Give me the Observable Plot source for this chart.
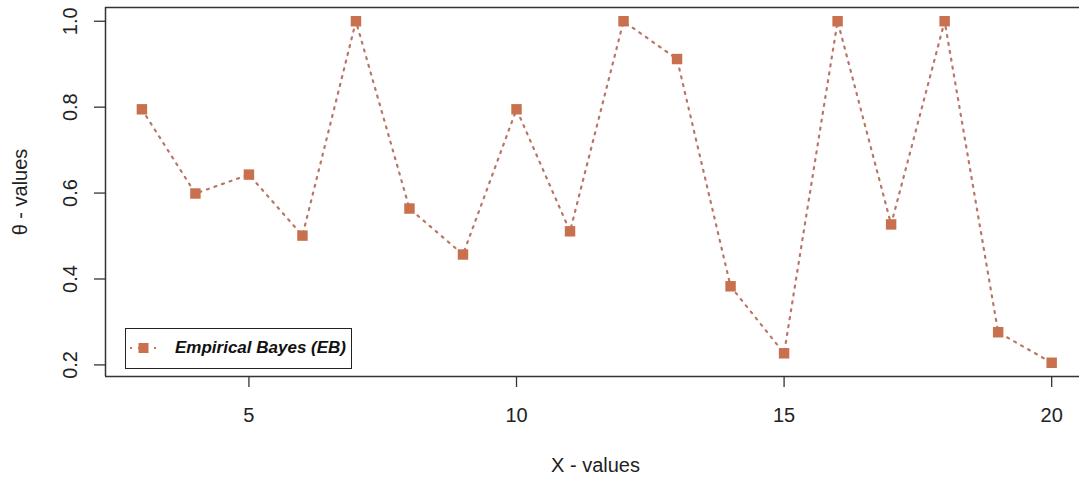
<!DOCTYPE html>
<html>
<head>
<meta charset="utf-8">
<script src="https://cdn.jsdelivr.net/npm/d3@7"></script>
<script src="https://cdn.jsdelivr.net/npm/@observablehq/plot@0.6"></script>
<style>
  html, body { margin: 0; padding: 0; background: #fff; }
  #wrap { position: relative; width: 1079px; height: 478px; font-family: "Liberation Sans", Arial, sans-serif; }
  #legend { position: absolute; left: 125px; top: 328px; width: 227px; height: 41px; border: 1.5px solid #222; background: #fff; box-sizing: border-box; }
  #legend svg { position: absolute; left: 0; top: 0; }
  #legend span { position: absolute; left: 49px; top: 9px; font-size: 17px; font-weight: bold; font-style: italic; color: #111; white-space: nowrap; }
</style>
</head>
<body>
<div id="wrap"></div>
<script>
const xValues = [3, 4, 5, 6, 7, 8, 9, 10, 11, 12, 13, 14, 15, 16, 17, 18, 19, 20];
const thetaEB = [0.795, 0.599, 0.643, 0.501, 1.0, 0.564, 0.457, 0.795, 0.511, 1.0, 0.912, 0.383, 0.227, 1.0, 0.527, 1.0, 0.276, 0.205];
const xTicks = [5, 10, 15, 20];
const yTicks = [0.2, 0.4, 0.6, 0.8, 1.0];
const seriesName = "Empirical Bayes (EB)";
const xTitle = "X - values";
const yTitle = "θ - values";

const data = xValues.map((x, i) => ({x, y: thetaEB[i]}));
const lineColor = "#bb7565";
const pointColor = "#c9714f";
const axisColor = "#333";

const chart = Plot.plot({
  width: 1079,
  height: 478,
  marginLeft: 105,
  marginRight: 0,
  marginTop: 7,
  marginBottom: 102,
  style: {fontFamily: "'Liberation Sans', Arial, sans-serif", fontSize: "20px", color: "#222", background: "#fff"},
  x: {domain: [2.32, 20.52]},
  y: {domain: [0.173, 1.032]},
  marks: [
    Plot.ruleX([2.32], {stroke: axisColor, strokeWidth: 1.5}),
    Plot.ruleY([0.173, 1.032], {stroke: axisColor, strokeWidth: 1.5}),
    Plot.axisX({ticks: xTicks, tickSize: 11, tickPadding: 20, tickFormat: d => String(d), stroke: axisColor, strokeWidth: 1.3, label: null, fill: "#222", fontSize: 20}),
    Plot.axisY({ticks: yTicks, tickSize: 11, tickFormat: () => "", stroke: axisColor, strokeWidth: 1.3, label: null}),
    Plot.text(yTicks, {y: d => d, text: d => d.toFixed(1), frameAnchor: "left", dx: -29, rotate: -90, textAnchor: "middle", lineAnchor: "bottom", fill: "#222", fontSize: 20}),
    Plot.text([xTitle], {text: d => d, frameAnchor: "bottom", dx: 3, dy: 89, lineAnchor: "middle", fill: "#222", fontSize: 20}),
    Plot.text([yTitle], {text: d => d, frameAnchor: "left", dx: -85, rotate: -90, textAnchor: "middle", lineAnchor: "middle", fill: "#222", fontSize: 20}),
    Plot.line(data, {x: "x", y: "y", stroke: lineColor, strokeWidth: 2.2, strokeDasharray: "2,6"}),
    Plot.dot(data, {x: "x", y: "y", symbol: "square", r: 5.9, fill: pointColor, stroke: "none"})
  ]
});
const wrap = document.getElementById("wrap");
wrap.appendChild(chart);

const legend = document.createElement("div");
legend.id = "legend";
legend.innerHTML = `<svg width="48" height="38">
  <line x1="4" y1="19" x2="34" y2="19" stroke="${lineColor}" stroke-width="2.2" stroke-dasharray="2,6"/>
  <rect x="12.5" y="14" width="10" height="10" fill="${pointColor}"/>
</svg><span>${seriesName}</span>`;
wrap.appendChild(legend);
</script>
</body>
</html>
